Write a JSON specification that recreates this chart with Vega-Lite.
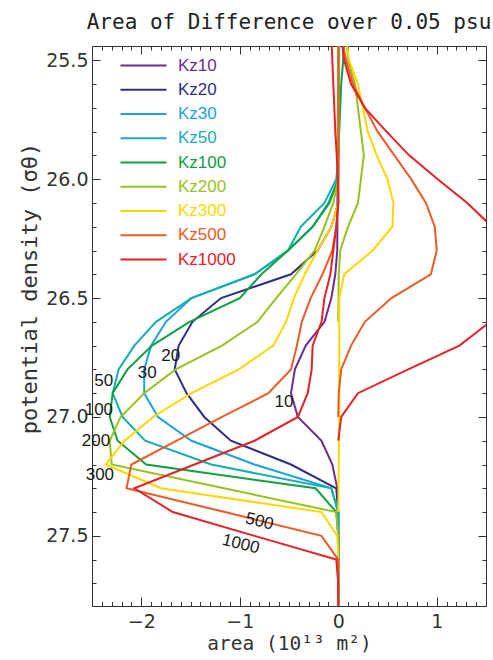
{
  "$schema": "https://vega.github.io/schema/vega-lite/v6.json",
  "width": 394,
  "height": 560,
  "autosize": {"type": "none"},
  "padding": {"left": 92, "top": 46, "right": 7, "bottom": 54},
  "background": "white",
  "view": {"stroke": "#333", "strokeWidth": 1},
  "title": {"text": "Area of Difference over 0.05 psu", "font": "DejaVu Sans Mono", "fontSize": 21, "fontWeight": "normal", "color": "#222", "anchor": "middle", "offset": 13},
  "datasets": {
    "profiles": [
      {"kz":"Kz10","part":"neg","density":25.4,"area":0},{"kz":"Kz10","part":"neg","density":26.3,"area":-0.01},{"kz":"Kz10","part":"neg","density":26.4,"area":-0.03},{"kz":"Kz10","part":"neg","density":26.5,"area":-0.07},{"kz":"Kz10","part":"neg","density":26.6,"area":-0.14},{"kz":"Kz10","part":"neg","density":26.7,"area":-0.33},{"kz":"Kz10","part":"neg","density":26.8,"area":-0.44},{"kz":"Kz10","part":"neg","density":26.9,"area":-0.48},{"kz":"Kz10","part":"neg","density":27.0,"area":-0.41},{"kz":"Kz10","part":"neg","density":27.1,"area":-0.17},{"kz":"Kz10","part":"neg","density":27.2,"area":-0.06},{"kz":"Kz10","part":"neg","density":27.3,"area":-0.01},{"kz":"Kz10","part":"neg","density":27.4,"area":0},{"kz":"Kz10","part":"neg","density":27.8,"area":0},

      {"kz":"Kz20","part":"neg","density":25.4,"area":0},{"kz":"Kz20","part":"neg","density":26.1,"area":0},{"kz":"Kz20","part":"neg","density":26.2,"area":-0.07},{"kz":"Kz20","part":"neg","density":26.3,"area":-0.21},{"kz":"Kz20","part":"neg","density":26.4,"area":-0.48},{"kz":"Kz20","part":"neg","density":26.5,"area":-1.19},{"kz":"Kz20","part":"neg","density":26.6,"area":-1.48},{"kz":"Kz20","part":"neg","density":26.7,"area":-1.62},{"kz":"Kz20","part":"neg","density":26.8,"area":-1.66},{"kz":"Kz20","part":"neg","density":26.9,"area":-1.54},{"kz":"Kz20","part":"neg","density":27.0,"area":-1.36},{"kz":"Kz20","part":"neg","density":27.1,"area":-1.09},{"kz":"Kz20","part":"neg","density":27.2,"area":-0.48},{"kz":"Kz20","part":"neg","density":27.3,"area":-0.02},{"kz":"Kz20","part":"neg","density":27.4,"area":0},{"kz":"Kz20","part":"neg","density":27.8,"area":0},

      {"kz":"Kz30","part":"neg","density":25.4,"area":0},{"kz":"Kz30","part":"neg","density":26.0,"area":0},{"kz":"Kz30","part":"neg","density":26.1,"area":-0.10},{"kz":"Kz30","part":"neg","density":26.2,"area":-0.26},{"kz":"Kz30","part":"neg","density":26.3,"area":-0.51},{"kz":"Kz30","part":"neg","density":26.4,"area":-0.85},{"kz":"Kz30","part":"neg","density":26.5,"area":-1.49},{"kz":"Kz30","part":"neg","density":26.6,"area":-1.75},{"kz":"Kz30","part":"neg","density":26.7,"area":-1.90},{"kz":"Kz30","part":"neg","density":26.8,"area":-1.97},{"kz":"Kz30","part":"neg","density":26.9,"area":-1.97},{"kz":"Kz30","part":"neg","density":27.0,"area":-1.83},{"kz":"Kz30","part":"neg","density":27.1,"area":-1.49},{"kz":"Kz30","part":"neg","density":27.2,"area":-0.85},{"kz":"Kz30","part":"neg","density":27.3,"area":-0.07},{"kz":"Kz30","part":"neg","density":27.4,"area":0},{"kz":"Kz30","part":"neg","density":27.8,"area":0},

      {"kz":"Kz50","part":"neg","density":25.4,"area":0.01},{"kz":"Kz50","part":"neg","density":25.9,"area":0.005},{"kz":"Kz50","part":"neg","density":26.0,"area":-0.02},{"kz":"Kz50","part":"neg","density":26.1,"area":-0.14},{"kz":"Kz50","part":"neg","density":26.2,"area":-0.38},{"kz":"Kz50","part":"neg","density":26.3,"area":-0.51},{"kz":"Kz50","part":"neg","density":26.4,"area":-0.85},{"kz":"Kz50","part":"neg","density":26.5,"area":-1.49},{"kz":"Kz50","part":"neg","density":26.6,"area":-1.85},{"kz":"Kz50","part":"neg","density":26.7,"area":-2.07},{"kz":"Kz50","part":"neg","density":26.8,"area":-2.23},{"kz":"Kz50","part":"neg","density":26.9,"area":-2.29},{"kz":"Kz50","part":"neg","density":27.0,"area":-2.19},{"kz":"Kz50","part":"neg","density":27.1,"area":-1.96},{"kz":"Kz50","part":"neg","density":27.2,"area":-1.29},{"kz":"Kz50","part":"neg","density":27.3,"area":-0.07},{"kz":"Kz50","part":"neg","density":27.4,"area":0},{"kz":"Kz50","part":"neg","density":27.8,"area":0},

      {"kz":"Kz100","part":"pos","density":25.4,"area":0.06},{"kz":"Kz100","part":"pos","density":25.5,"area":0.05},{"kz":"Kz100","part":"pos","density":25.6,"area":0.03},{"kz":"Kz100","part":"pos","density":25.7,"area":0.02},{"kz":"Kz100","part":"pos","density":25.8,"area":0.01},{"kz":"Kz100","part":"pos","density":25.9,"area":0},
      {"kz":"Kz100","part":"neg","density":25.4,"area":0},{"kz":"Kz100","part":"neg","density":26.0,"area":0},{"kz":"Kz100","part":"neg","density":26.1,"area":-0.09},{"kz":"Kz100","part":"neg","density":26.2,"area":-0.26},{"kz":"Kz100","part":"neg","density":26.3,"area":-0.51},{"kz":"Kz100","part":"neg","density":26.4,"area":-0.78},{"kz":"Kz100","part":"neg","density":26.5,"area":-1.00},{"kz":"Kz100","part":"neg","density":26.6,"area":-1.51},{"kz":"Kz100","part":"neg","density":26.7,"area":-1.89},{"kz":"Kz100","part":"neg","density":26.8,"area":-2.14},{"kz":"Kz100","part":"neg","density":26.9,"area":-2.29},{"kz":"Kz100","part":"neg","density":27.0,"area":-2.32},{"kz":"Kz100","part":"neg","density":27.1,"area":-2.24},{"kz":"Kz100","part":"neg","density":27.2,"area":-1.95},{"kz":"Kz100","part":"neg","density":27.3,"area":-0.23},{"kz":"Kz100","part":"neg","density":27.4,"area":-0.02},{"kz":"Kz100","part":"neg","density":27.5,"area":0},{"kz":"Kz100","part":"neg","density":27.8,"area":0},

      {"kz":"Kz200","part":"pos","density":25.4,"area":0.08},{"kz":"Kz200","part":"pos","density":25.5,"area":0.10},{"kz":"Kz200","part":"pos","density":25.6,"area":0.17},{"kz":"Kz200","part":"pos","density":25.7,"area":0.20},{"kz":"Kz200","part":"pos","density":25.8,"area":0.23},{"kz":"Kz200","part":"pos","density":25.9,"area":0.26},{"kz":"Kz200","part":"pos","density":26.0,"area":0.23},{"kz":"Kz200","part":"pos","density":26.1,"area":0.20},{"kz":"Kz200","part":"pos","density":26.2,"area":0.10},{"kz":"Kz200","part":"pos","density":26.3,"area":0.02},{"kz":"Kz200","part":"pos","density":26.4,"area":0.005},{"kz":"Kz200","part":"pos","density":26.6,"area":0},
      {"kz":"Kz200","part":"neg","density":25.4,"area":0},{"kz":"Kz200","part":"neg","density":26.0,"area":0},{"kz":"Kz200","part":"neg","density":26.1,"area":-0.05},{"kz":"Kz200","part":"neg","density":26.2,"area":-0.14},{"kz":"Kz200","part":"neg","density":26.3,"area":-0.24},{"kz":"Kz200","part":"neg","density":26.4,"area":-0.43},{"kz":"Kz200","part":"neg","density":26.5,"area":-0.63},{"kz":"Kz200","part":"neg","density":26.6,"area":-0.82},{"kz":"Kz200","part":"neg","density":26.7,"area":-1.18},{"kz":"Kz200","part":"neg","density":26.8,"area":-1.65},{"kz":"Kz200","part":"neg","density":26.9,"area":-1.97},{"kz":"Kz200","part":"neg","density":27.0,"area":-2.21},{"kz":"Kz200","part":"neg","density":27.1,"area":-2.32},{"kz":"Kz200","part":"neg","density":27.2,"area":-2.30},{"kz":"Kz200","part":"neg","density":27.3,"area":-1.16},{"kz":"Kz200","part":"neg","density":27.4,"area":-0.02},{"kz":"Kz200","part":"neg","density":27.5,"area":0},{"kz":"Kz200","part":"neg","density":27.8,"area":0},

      {"kz":"Kz300","part":"pos","density":25.4,"area":0.08},{"kz":"Kz300","part":"pos","density":25.5,"area":0.11},{"kz":"Kz300","part":"pos","density":25.6,"area":0.20},{"kz":"Kz300","part":"pos","density":25.7,"area":0.25},{"kz":"Kz300","part":"pos","density":25.8,"area":0.30},{"kz":"Kz300","part":"pos","density":25.9,"area":0.39},{"kz":"Kz300","part":"pos","density":26.0,"area":0.50},{"kz":"Kz300","part":"pos","density":26.1,"area":0.56},{"kz":"Kz300","part":"pos","density":26.2,"area":0.55},{"kz":"Kz300","part":"pos","density":26.3,"area":0.35},{"kz":"Kz300","part":"pos","density":26.4,"area":0.06},{"kz":"Kz300","part":"pos","density":26.5,"area":0.01},{"kz":"Kz300","part":"pos","density":27.0,"area":0.01},{"kz":"Kz300","part":"pos","density":27.4,"area":0},
      {"kz":"Kz300","part":"neg","density":25.4,"area":0},{"kz":"Kz300","part":"neg","density":26.1,"area":0},{"kz":"Kz300","part":"neg","density":26.2,"area":-0.07},{"kz":"Kz300","part":"neg","density":26.3,"area":-0.21},{"kz":"Kz300","part":"neg","density":26.4,"area":-0.34},{"kz":"Kz300","part":"neg","density":26.5,"area":-0.45},{"kz":"Kz300","part":"neg","density":26.6,"area":-0.53},{"kz":"Kz300","part":"neg","density":26.7,"area":-0.66},{"kz":"Kz300","part":"neg","density":26.8,"area":-1.01},{"kz":"Kz300","part":"neg","density":26.9,"area":-1.49},{"kz":"Kz300","part":"neg","density":27.0,"area":-1.88},{"kz":"Kz300","part":"neg","density":27.1,"area":-2.17},{"kz":"Kz300","part":"neg","density":27.2,"area":-2.36},{"kz":"Kz300","part":"neg","density":27.3,"area":-1.80},{"kz":"Kz300","part":"neg","density":27.4,"area":-0.17},{"kz":"Kz300","part":"neg","density":27.5,"area":-0.01},{"kz":"Kz300","part":"neg","density":27.6,"area":0},{"kz":"Kz300","part":"neg","density":27.8,"area":0},

      {"kz":"Kz500","part":"pos","density":25.4,"area":0.03},{"kz":"Kz500","part":"pos","density":25.5,"area":0.08},{"kz":"Kz500","part":"pos","density":25.6,"area":0.15},{"kz":"Kz500","part":"pos","density":25.7,"area":0.27},{"kz":"Kz500","part":"pos","density":25.8,"area":0.40},{"kz":"Kz500","part":"pos","density":25.9,"area":0.57},{"kz":"Kz500","part":"pos","density":26.0,"area":0.74},{"kz":"Kz500","part":"pos","density":26.1,"area":0.89},{"kz":"Kz500","part":"pos","density":26.2,"area":0.98},{"kz":"Kz500","part":"pos","density":26.3,"area":1.00},{"kz":"Kz500","part":"pos","density":26.4,"area":0.94},{"kz":"Kz500","part":"pos","density":26.5,"area":0.54},{"kz":"Kz500","part":"pos","density":26.6,"area":0.27},{"kz":"Kz500","part":"pos","density":26.7,"area":0.13},{"kz":"Kz500","part":"pos","density":26.8,"area":0.03},{"kz":"Kz500","part":"pos","density":26.9,"area":0.005},{"kz":"Kz500","part":"pos","density":27.0,"area":0},
      {"kz":"Kz500","part":"neg","density":25.4,"area":0},{"kz":"Kz500","part":"neg","density":26.1,"area":0},{"kz":"Kz500","part":"neg","density":26.2,"area":-0.02},{"kz":"Kz500","part":"neg","density":26.3,"area":-0.06},{"kz":"Kz500","part":"neg","density":26.4,"area":-0.16},{"kz":"Kz500","part":"neg","density":26.5,"area":-0.28},{"kz":"Kz500","part":"neg","density":26.6,"area":-0.37},{"kz":"Kz500","part":"neg","density":26.7,"area":-0.42},{"kz":"Kz500","part":"neg","density":26.8,"area":-0.48},{"kz":"Kz500","part":"neg","density":26.9,"area":-0.71},{"kz":"Kz500","part":"neg","density":27.0,"area":-1.18},{"kz":"Kz500","part":"neg","density":27.1,"area":-1.64},{"kz":"Kz500","part":"neg","density":27.2,"area":-2.10},{"kz":"Kz500","part":"neg","density":27.3,"area":-2.15},{"kz":"Kz500","part":"neg","density":27.4,"area":-1.15},{"kz":"Kz500","part":"neg","density":27.5,"area":-0.17},{"kz":"Kz500","part":"neg","density":27.6,"area":0},{"kz":"Kz500","part":"neg","density":27.8,"area":0},

      {"kz":"Kz1000","part":"pos","density":25.4,"area":0.03},{"kz":"Kz1000","part":"pos","density":25.5,"area":0.06},{"kz":"Kz1000","part":"pos","density":25.6,"area":0.13},{"kz":"Kz1000","part":"pos","density":25.7,"area":0.27},{"kz":"Kz1000","part":"pos","density":25.8,"area":0.49},{"kz":"Kz1000","part":"pos","density":25.9,"area":0.72},{"kz":"Kz1000","part":"pos","density":26.0,"area":1.01},{"kz":"Kz1000","part":"pos","density":26.1,"area":1.31},{"kz":"Kz1000","part":"pos","density":26.2,"area":1.56},{"kz":"Kz1000","part":"pos","density":26.3,"area":1.75},{"kz":"Kz1000","part":"pos","density":26.4,"area":1.80},{"kz":"Kz1000","part":"pos","density":26.5,"area":1.70},{"kz":"Kz1000","part":"pos","density":26.6,"area":1.54},{"kz":"Kz1000","part":"pos","density":26.7,"area":1.23},{"kz":"Kz1000","part":"pos","density":26.8,"area":0.71},{"kz":"Kz1000","part":"pos","density":26.9,"area":0.20},{"kz":"Kz1000","part":"pos","density":27.0,"area":0.03},{"kz":"Kz1000","part":"pos","density":27.1,"area":0},
      {"kz":"Kz1000","part":"neg","density":25.4,"area":-0.07},{"kz":"Kz1000","part":"neg","density":25.5,"area":-0.06},{"kz":"Kz1000","part":"neg","density":25.6,"area":-0.05},{"kz":"Kz1000","part":"neg","density":25.7,"area":-0.04},{"kz":"Kz1000","part":"neg","density":25.8,"area":-0.03},{"kz":"Kz1000","part":"neg","density":25.9,"area":-0.015},{"kz":"Kz1000","part":"neg","density":26.0,"area":-0.005},{"kz":"Kz1000","part":"neg","density":26.1,"area":0},{"kz":"Kz1000","part":"neg","density":26.2,"area":-0.02},{"kz":"Kz1000","part":"neg","density":26.3,"area":-0.05},{"kz":"Kz1000","part":"neg","density":26.4,"area":-0.08},{"kz":"Kz1000","part":"neg","density":26.5,"area":-0.14},{"kz":"Kz1000","part":"neg","density":26.6,"area":-0.17},{"kz":"Kz1000","part":"neg","density":26.7,"area":-0.26},{"kz":"Kz1000","part":"neg","density":26.8,"area":-0.27},{"kz":"Kz1000","part":"neg","density":26.9,"area":-0.31},{"kz":"Kz1000","part":"neg","density":27.0,"area":-0.41},{"kz":"Kz1000","part":"neg","density":27.1,"area":-0.85},{"kz":"Kz1000","part":"neg","density":27.2,"area":-1.46},{"kz":"Kz1000","part":"neg","density":27.3,"area":-2.07},{"kz":"Kz1000","part":"neg","density":27.4,"area":-1.68},{"kz":"Kz1000","part":"neg","density":27.5,"area":-0.85},{"kz":"Kz1000","part":"neg","density":27.6,"area":-0.02},{"kz":"Kz1000","part":"neg","density":27.7,"area":0},{"kz":"Kz1000","part":"neg","density":27.8,"area":0}
    ],
    "annotations": [
      {"label":"10","area":-0.55,"density":26.937},
      {"label":"20","area":-1.70,"density":26.744},
      {"label":"30","area":-1.94,"density":26.815},
      {"label":"50","area":-2.38,"density":26.849},
      {"label":"100","area":-2.43,"density":26.971},
      {"label":"200","area":-2.46,"density":27.101},
      {"label":"300","area":-2.42,"density":27.244},
      {"label":"500","area":-0.80,"density":27.44},
      {"label":"1000","area":-0.99,"density":27.535}
    ]
  },
  "layer": [
    {
      "data": {"name": "profiles"},
      "mark": {"type": "line", "strokeWidth": 2, "clip": true},
      "encoding": {
        "x": {"field": "area", "type": "quantitative",
          "scale": {"domain": [-2.5, 1.5], "nice": false, "zero": false},
          "axis": {"orient": "bottom", "grid": false, "domain": false,
            "values": [-2, -1, 0, 1], "format": "d",
            "ticks": true, "tickSize": -9, "tickWidth": 1, "tickColor": "#333",
            "labelPadding": 15, "labelFont": "DejaVu Sans", "labelFontSize": 19, "labelColor": "#333",
            "labelOverlap": false, "labelFlush": false,
            "title": "area (10¹³ m²)", "titleFont": "DejaVu Sans Mono", "titleFontSize": 19.5, "titleFontWeight": "normal", "titleColor": "#333", "titlePadding": 3}
        },
        "y": {"field": "density", "type": "quantitative",
          "scale": {"domain": [25.44, 27.795], "reverse": true, "nice": false, "zero": false},
          "axis": {"orient": "left", "grid": false, "domain": false,
            "values": [25.5, 26.0, 26.5, 27.0, 27.5], "format": ".1f",
            "ticks": true, "tickSize": -8, "tickWidth": 1, "tickColor": "#333",
            "labelPadding": 12, "labelFont": "DejaVu Sans", "labelFontSize": 19, "labelColor": "#333",
            "labelOverlap": false, "labelFlush": false,
            "title": "potential density (σθ)", "titleFont": "DejaVu Sans Mono", "titleFontSize": 22, "titleFontWeight": "normal", "titleColor": "#333", "titlePadding": 4, "titleY": 242}
        },
        "color": {"field": "kz", "type": "nominal",
          "scale": {"domain": ["Kz10","Kz20","Kz30","Kz50","Kz100","Kz200","Kz300","Kz500","Kz1000"],
                    "range": ["#6E2C91","#2E2F86","#1BA3E0","#14AEB0","#10A040","#96C31E","#FFD700","#EB5B25","#E42228"]},
          "legend": {"orient": "none", "legendX": 25, "legendY": 11, "title": null, "padding": 0,
            "symbolType": "M-1,0H8.2", "symbolSize": 100, "symbolStrokeWidth": 2,
            "labelFont": "Liberation Sans", "labelFontSize": 17, "labelOffset": 44, "rowPadding": 6.25,
            "encode": {"labels": {"update": {"fill": {"scale": "color", "field": "value"}}}}}
        },
        "detail": {"field": "part"},
        "order": {"field": "density", "type": "quantitative"}
      }
    },
    {
      "data": {"name": "annotations"},
      "transform": [{"filter": "datum.label != '500' && datum.label != '1000'"}],
      "mark": {"type": "text", "font": "Liberation Sans", "fontSize": 17, "color": "#1a1a1a", "align": "center", "baseline": "middle"},
      "encoding": {
        "x": {"field": "area", "type": "quantitative",
          "axis": {"orient": "top", "grid": false, "labels": false, "title": null, "domain": false,
            "values": [-2, -1, 0, 1], "ticks": true, "tickSize": -8, "tickWidth": 1, "tickColor": "#333"}
        },
        "y": {"field": "density", "type": "quantitative",
          "axis": {"orient": "right", "grid": false, "labels": false, "title": null, "domain": false,
            "values": [25.5, 26.0, 26.5, 27.0, 27.5], "ticks": true, "tickSize": -8, "tickWidth": 1, "tickColor": "#333"}
        },
        "text": {"field": "label"}
      }
    },
    {
      "data": {"name": "annotations"},
      "transform": [{"filter": "datum.label == '500' || datum.label == '1000'"}],
      "mark": {"type": "text", "font": "Liberation Sans", "fontSize": 17, "color": "#1a1a1a", "align": "center", "baseline": "middle", "angle": 14},
      "encoding": {
        "x": {"field": "area", "type": "quantitative",
          "axis": {"orient": "bottom", "grid": false, "labels": false, "title": null, "domain": false,
            "values": [-2.5,-2.4,-2.3,-2.2,-2.1,-2.0,-1.9,-1.8,-1.7,-1.6,-1.5,-1.4,-1.3,-1.2,-1.1,-1.0,-0.9,-0.8,-0.7,-0.6,-0.5,-0.4,-0.3,-0.2,-0.1,0,0.1,0.2,0.3,0.4,0.5,0.6,0.7,0.8,0.9,1.0,1.1,1.2,1.3,1.4,1.5],
            "ticks": true, "tickSize": -4.5, "tickWidth": 1, "tickColor": "#333"}
        },
        "y": {"field": "density", "type": "quantitative",
          "axis": {"orient": "left", "grid": false, "labels": false, "title": null, "domain": false,
            "values": [25.5,25.6,25.7,25.8,25.9,26.0,26.1,26.2,26.3,26.4,26.5,26.6,26.7,26.8,26.9,27.0,27.1,27.2,27.3,27.4,27.5,27.6,27.7],
            "ticks": true, "tickSize": -4, "tickWidth": 1, "tickColor": "#333"}
        },
        "text": {"field": "label"}
      }
    },
    {
      "data": {"name": "annotations"},
      "transform": [{"filter": "false"}],
      "mark": {"type": "text"},
      "encoding": {
        "x": {"field": "area", "type": "quantitative",
          "axis": {"orient": "top", "grid": false, "labels": false, "title": null, "domain": false,
            "values": [-2.5,-2.4,-2.3,-2.2,-2.1,-2.0,-1.9,-1.8,-1.7,-1.6,-1.5,-1.4,-1.3,-1.2,-1.1,-1.0,-0.9,-0.8,-0.7,-0.6,-0.5,-0.4,-0.3,-0.2,-0.1,0,0.1,0.2,0.3,0.4,0.5,0.6,0.7,0.8,0.9,1.0,1.1,1.2,1.3,1.4,1.5],
            "ticks": true, "tickSize": -4, "tickWidth": 1, "tickColor": "#333"}
        },
        "y": {"field": "density", "type": "quantitative",
          "axis": {"orient": "right", "grid": false, "labels": false, "title": null, "domain": false,
            "values": [25.5,25.6,25.7,25.8,25.9,26.0,26.1,26.2,26.3,26.4,26.5,26.6,26.7,26.8,26.9,27.0,27.1,27.2,27.3,27.4,27.5,27.6,27.7],
            "ticks": true, "tickSize": -4, "tickWidth": 1, "tickColor": "#333"}
        },
        "text": {"field": "label"}
      }
    }
  ],
  "resolve": {"axis": {"x": "independent", "y": "independent"}}
}
